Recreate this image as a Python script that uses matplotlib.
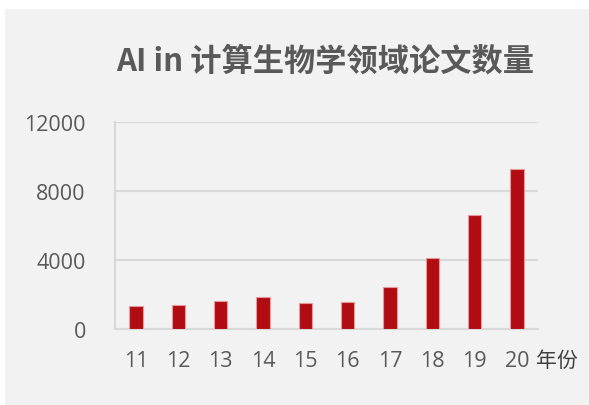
import matplotlib.pyplot as plt
from matplotlib.patches import Rectangle

plt.rcParams['font.family'] = ['Noto Sans CJK SC', 'DejaVu Sans']

years = ['11', '12', '13', '14', '15', '16', '17', '18', '19', '20']
papers = [1300, 1370, 1590, 1820, 1490, 1570, 2420, 4100, 6570, 9260]
yticks = [0, 4000, 8000, 12000]

fig = plt.figure(figsize=(5.89, 4.06), dpi=100, facecolor='white')
# gray chart area with thin white margin on top and left
fig.patches.append(Rectangle((5 / 589, 0), 1, 396 / 406, transform=fig.transFigure,
                             facecolor='#f2f2f2', edgecolor='none', zorder=-10))

ax = fig.add_axes([115 / 589, 76.3 / 406, 423 / 589, 207 / 406])
ax.set_facecolor('none')
ax.set_zorder(5)

x = range(len(years))
ax.bar(x, papers, width=0.315, color='#b10c12', edgecolor='#e49a9c', linewidth=0.8, zorder=3)

ax.set_xlim(-0.5, len(years) - 0.5)
ax.set_ylim(0, 12000)
ax.set_yticks(yticks)
ax.set_yticklabels([str(v) for v in yticks], fontfamily='Open Sans')
ax.set_xticks(list(x))
ax.set_xticklabels(years, fontfamily='Open Sans')
ax.yaxis.grid(True, color='#d9d9d9', linewidth=1.5, zorder=0)
ax.tick_params(axis='both', length=0, labelsize=15.5, labelcolor='#595959')
ax.tick_params(axis='y', pad=21)
ax.tick_params(axis='x', pad=15)

for s in ['top', 'right']:
    ax.spines[s].set_visible(False)
for s in ['left', 'bottom']:
    ax.spines[s].set_color('#d9d9d9')
    ax.spines[s].set_linewidth(1.5)

fig.text(325 / 589, 1 - 62 / 406, 'AI in 计算生物学领域论文数量', ha='center', va='center',
         fontsize=22.5, fontweight='bold', color='#595959')
fig.text(536 / 589, 1 - 361 / 406, '年份', ha='left', va='center',
         fontsize=15, color='#404040')

fig.savefig('out.png', dpi=100, facecolor=fig.get_facecolor())
